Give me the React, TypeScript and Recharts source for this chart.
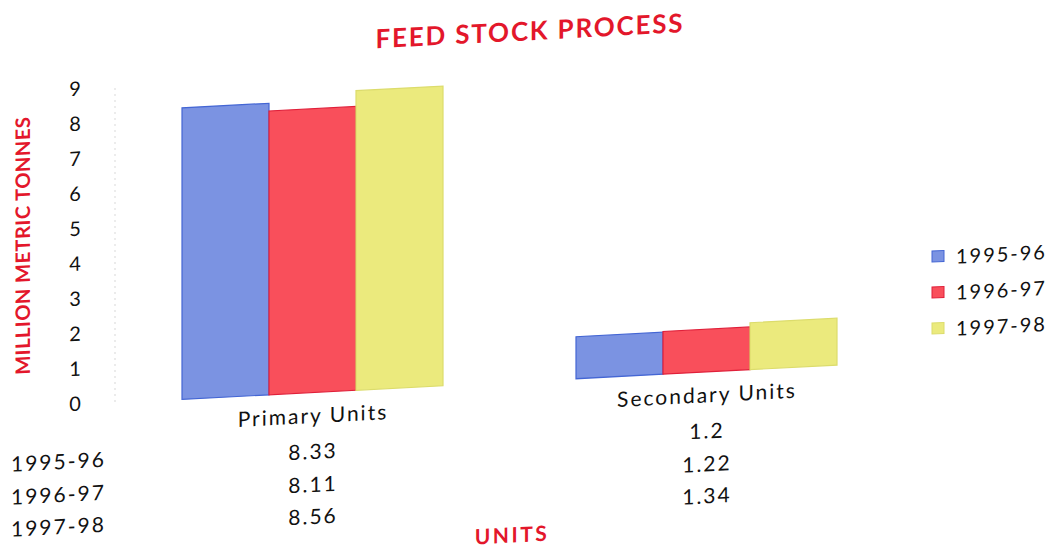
import { Bar, BarChart, XAxis, YAxis } from "recharts";

const categories = ["Primary Units", "Secondary Units"];
const seriesNames = ["1995-96", "1996-97", "1997-98"];
const primaryValues = [8.33, 8.11, 8.56];
const secondaryValues = [1.2, 1.22, 1.34];
const yTicks = [0, 1, 2, 3, 4, 5, 6, 7, 8, 9];

const fills = ["#7b93e2", "#f94f5b", "#ebea7d"];
const strokes = ["#4466d4", "#e0203a", "#dcdc6c"];

const valuesByCategory = [primaryValues, secondaryValues];
const data = categories.map((name, ci) => {
    const row: Record<string, string | number> = { name };
    seriesNames.forEach((s, si) => {
        row[s] = valuesByCategory[ci][si];
    });
    return row;
});

const FONT = "Lato, 'Open Sans', sans-serif";
const RED = "#e3172b";
const PLOT_BOTTOM = 405;
const rowOffsets = [58, 91, 123];

// category name plus the data table column under it
const XTick = (props: any) => {
    const { x, y, payload } = props;
    const ci = categories.indexOf(payload.value);
    return (
        <g fontFamily={FONT} fontSize={21} fill="#111" style={{ letterSpacing: "2px" }}>
            <text x={x + 1} y={y + 22} textAnchor="middle" dominantBaseline="central">
                {payload.value}
            </text>
            {seriesNames.map((s, si) => (
                <text
                    key={s}
                    x={x + 1}
                    y={y + rowOffsets[si]}
                    textAnchor="middle"
                    dominantBaseline="central"
                >
                    {valuesByCategory[ci][si]}
                </text>
            ))}
        </g>
    );
};

const YTick = (props: any) => {
    const { x, y, payload } = props;
    return (
        <text
            x={x - 40}
            y={y - 2}
            textAnchor="middle"
            dominantBaseline="central"
            fontFamily={FONT}
            fontSize={20}
            fill="#111"
        >
            {payload.value}
        </text>
    );
};

export default function App() {
    return (
        <div
            style={{
                position: "absolute",
                left: 0,
                top: 0,
                width: 1053,
                height: 551,
                overflow: "hidden",
                background: "#fff",
            }}
        >
            <div
                style={{
                    position: "relative",
                    width: 1053,
                    height: 600,
                    transform: "skewY(-3deg)",
                    transformOrigin: "75px 0",
                }}
            >
                <BarChart
                    width={1053}
                    height={600}
                    data={data}
                    margin={{ top: 90, right: 150, bottom: 0, left: 0 }}
                    barGap={0}
                    barSize={87}
                >
                    <XAxis
                        dataKey="name"
                        height={600 - PLOT_BOTTOM}
                        axisLine={false}
                        tickLine={false}
                        tickSize={0}
                        tickMargin={0}
                        tick={<XTick />}
                        interval={0}
                    />
                    <YAxis
                        width={115}
                        domain={[0, 9]}
                        ticks={yTicks}
                        axisLine={{ stroke: "#d8d8d8", strokeDasharray: "2 4" }}
                        tickLine={false}
                        tickSize={0}
                        tickMargin={0}
                        tick={<YTick />}
                        interval={0}
                    />
                    {seriesNames.map((s, i) => (
                        <Bar
                            key={s}
                            dataKey={s}
                            fill={fills[i]}
                            stroke={strokes[i]}
                            strokeWidth={1.2}
                            isAnimationActive={false}
                        />
                    ))}
                </BarChart>
                <svg
                    width={1053}
                    height={600}
                    style={{ position: "absolute", left: 0, top: 0, pointerEvents: "none" }}
                    fontFamily={FONT}
                >
                    <text
                        x={530}
                        y={54}
                        textAnchor="middle"
                        dominantBaseline="central"
                        fontSize={26}
                        fontWeight="bold"
                        fill={RED}
                        style={{ letterSpacing: "1.8px" }}
                    >
                        FEED STOCK PROCESS
                    </text>
                    <text
                        x={22}
                        y={243}
                        transform="rotate(-90, 22, 243)"
                        textAnchor="middle"
                        dominantBaseline="central"
                        fontSize={20}
                        fontWeight="bold"
                        fill={RED}
                        style={{ letterSpacing: "0.5px" }}
                    >
                        MILLION METRIC TONNES
                    </text>
                    <text
                        x={512}
                        y={557}
                        textAnchor="middle"
                        dominantBaseline="central"
                        fontSize={21}
                        fontWeight="bold"
                        fill={RED}
                        style={{ letterSpacing: "2.5px" }}
                    >
                        UNITS
                    </text>
                    {seriesNames.map((s, i) => (
                        <text
                            key={s}
                            x={11}
                            y={PLOT_BOTTOM + rowOffsets[i] - 3}
                            dominantBaseline="central"
                            fontSize={21}
                            fill="#111"
                            style={{ letterSpacing: "2px" }}
                        >
                            {s}
                        </text>
                    ))}
                    {seriesNames.map((s, i) => (
                        <g key={s}>
                            <rect
                                x={932}
                                y={302 + i * 36 - 6}
                                width={12}
                                height={11}
                                fill={fills[i]}
                                stroke={strokes[i]}
                            />
                            <text
                                x={956}
                                y={302 + i * 36}
                                dominantBaseline="central"
                                fontSize={20}
                                fill="#111"
                                style={{ letterSpacing: "2px" }}
                            >
                                {s}
                            </text>
                        </g>
                    ))}
                </svg>
            </div>
        </div>
    );
}
